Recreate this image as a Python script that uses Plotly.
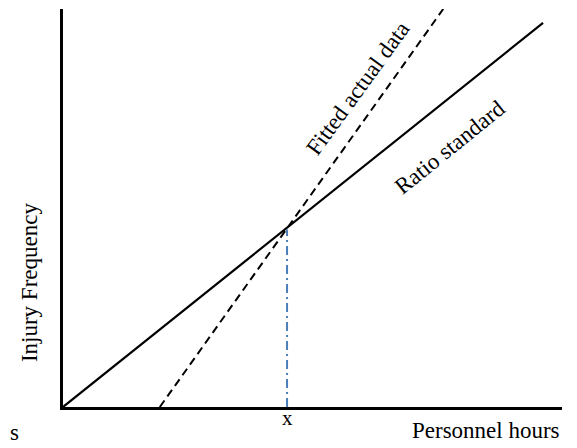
import plotly.graph_objects as go

# data (axis units 0-100)
ratio_x = [0, 96.2]
ratio_y = [0, 96.5]
fitted_x = [19.4, 76.2]
fitted_y = [0, 100]
marker_x = [44.9, 44.9]
marker_y = [0, 44.6]

FONT = "Liberation Serif"
FS = 23

fig = go.Figure()
fig.add_trace(go.Scatter(x=ratio_x, y=ratio_y, mode="lines",
                         line=dict(color="black", width=2.2), showlegend=False))
fig.add_trace(go.Scatter(x=fitted_x, y=fitted_y, mode="lines",
                         line=dict(color="black", width=2, dash="8px,5px"), showlegend=False))
fig.add_trace(go.Scatter(x=marker_x, y=marker_y, mode="lines",
                         line=dict(color="#4a7ebb", width=2, dash="9px,4px,2px,4px"), showlegend=False))

ann = []
ann.append(dict(x=marker_x[0], y=-0.028, xref="x", yref="paper", text="x", showarrow=False,
                yanchor="middle", font=dict(family=FONT, size=21, color="black")))
ann.append(dict(x=1.0, y=-0.060, xref="paper", yref="paper", text="Personnel hours", showarrow=False,
                xanchor="right", yanchor="middle", font=dict(family=FONT, size=FS, color="black")))
ann.append(dict(x=-0.068, y=0.314, xref="paper", yref="paper", text="Injury Frequency", showarrow=False,
                textangle=-90, xanchor="center", yanchor="middle", font=dict(family=FONT, size=FS, color="black")))
ann.append(dict(x=59.1, y=80, xref="x", yref="y", text="Fitted actual data", showarrow=False,
                textangle=-54, font=dict(family=FONT, size=FS, color="black")))
ann.append(dict(x=77.5, y=65.2, xref="x", yref="y", text="Ratio standard", showarrow=False,
                textangle=-39, font=dict(family=FONT, size=FS, color="black")))
ann.append(dict(x=-0.110, y=-0.063, xref="paper", yref="paper", text="s", showarrow=False,
                xanchor="left", yanchor="middle", font=dict(family=FONT, size=FS, color="black")))

fig.update_layout(
    width=569, height=440,
    margin=dict(l=55, r=15, t=1, b=41),
    paper_bgcolor="white", plot_bgcolor="white",
    annotations=ann,
    xaxis=dict(range=[0, 100], showgrid=False, zeroline=False, showticklabels=False,
               ticks="", showline=True, linecolor="black", linewidth=2.5),
    yaxis=dict(range=[0, 100], showgrid=False, zeroline=False, showticklabels=False,
               ticks="", showline=True, linecolor="black", linewidth=2.5),
)

fig.write_html("out.html")
